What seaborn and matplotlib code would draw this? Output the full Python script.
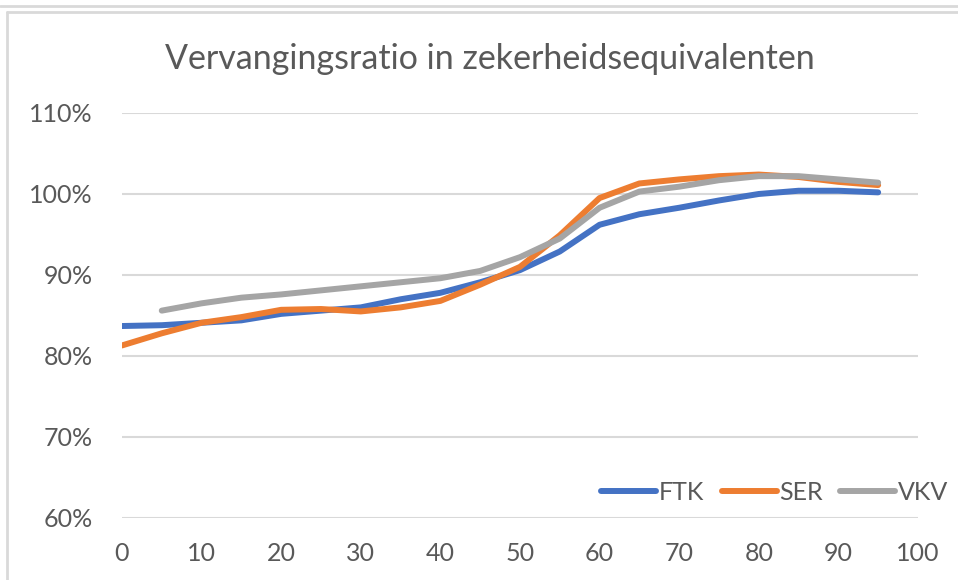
import pandas as pd
import matplotlib.pyplot as plt
import seaborn as sns
from matplotlib.lines import Line2D
from matplotlib.ticker import FuncFormatter

# data (in %)
leeftijd = [0, 5, 10, 15, 20, 25, 30, 35, 40, 45, 50, 55, 60, 65, 70, 75, 80, 85, 90, 95]
ftk = [83.7, 83.8, 84.1, 84.4, 85.2, 85.6, 86.0, 87.0, 87.8, 89.1, 90.6, 92.9, 96.2,
       97.5, 98.3, 99.2, 100.0, 100.4, 100.4, 100.2]
ser = [81.3, 82.8, 84.1, 84.8, 85.7, 85.8, 85.5, 86.0, 86.8, 88.8, 91.0, 94.9, 99.5,
       101.3, 101.8, 102.2, 102.4, 102.1, 101.5, 101.1]
leeftijd_vkv = [5, 10, 15, 20, 25, 30, 35, 40, 45, 50, 55, 60, 65, 70, 75, 80, 85, 90, 95]
vkv = [85.6, 86.5, 87.2, 87.6, 88.1, 88.6, 89.1, 89.6, 90.5, 92.2, 94.5, 98.3,
       100.3, 100.9, 101.7, 102.2, 102.2, 101.8, 101.4]

df = pd.concat([
    pd.DataFrame({'x': leeftijd, 'y': ftk, 'reeks': 'FTK'}),
    pd.DataFrame({'x': leeftijd, 'y': ser, 'reeks': 'SER'}),
    pd.DataFrame({'x': leeftijd_vkv, 'y': vkv, 'reeks': 'VKV'}),
])

kleuren = {'FTK': '#4472C4', 'SER': '#ED7D31', 'VKV': '#A5A5A5'}
tekst = '#595959'

sns.set_theme(style='white')
plt.rcParams['font.family'] = ['Lato', 'DejaVu Sans']

fig = plt.figure(figsize=(9.58, 5.8), dpi=100)
ax = fig.add_axes([0.1273, 0.1069, 0.8309, 0.6983])

sns.lineplot(data=df, x='x', y='y', hue='reeks', palette=kleuren,
             linewidth=4.3, ax=ax, solid_capstyle='round', legend=True)

ax.set_xlim(0, 100)
ax.set_ylim(60, 110)
ax.set_xticks(range(0, 101, 10))
ax.set_yticks(range(60, 111, 10))
ax.yaxis.set_major_formatter(FuncFormatter(lambda v, p: f'{v:.0f}%'))
ax.grid(axis='y', color='#D9D9D9', linewidth=1.5)
ax.set_axisbelow(True)
for s in ax.spines.values():
    s.set_visible(False)
ax.tick_params(axis='y', length=0, labelsize=18, colors=tekst, pad=21)
ax.tick_params(axis='x', length=0, labelsize=18, colors=tekst, pad=17)
ax.set_xlabel('')
ax.set_ylabel('')

fig.text(0.5115, 0.898, 'Vervangingsratio in zekerheidsequivalenten',
         ha='center', va='center', fontsize=24.5, color=tekst)

handles, labels = ax.get_legend_handles_labels()
ax.legend(handles, labels, loc='center right', bbox_to_anchor=(1.038, 0.064), ncol=3,
          frameon=False, fontsize=18, labelcolor=tekst, handlelength=2.2,
          handletextpad=0.1, columnspacing=0.7, borderpad=0, borderaxespad=0)

# Excel-achtige kaderlijnen
fig.add_artist(Line2D([0, 1], [0.990, 0.990], color='#D9D9D9', lw=2))
fig.add_artist(Line2D([0.0068, 1], [0.980, 0.980], color='#D9D9D9', lw=2))
fig.add_artist(Line2D([0.0068, 0.0068], [0, 0.980], color='#D9D9D9', lw=2))

fig.savefig('out.png', dpi=100)
